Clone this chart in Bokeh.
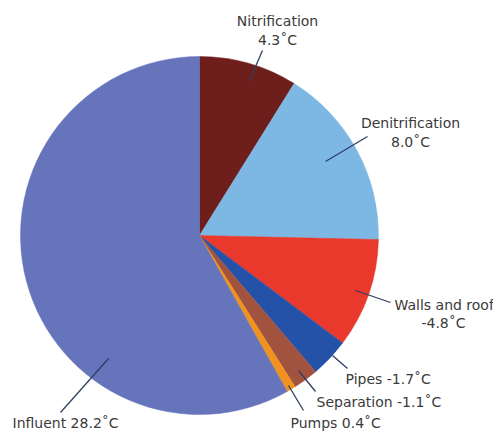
import math
from bokeh.plotting import figure
from bokeh.models import Range1d, ColumnDataSource
from bokeh.core.properties import value
from bokeh.embed import file_html
from bokeh.resources import INLINE

categories = ["Nitrification", "Denitrification", "Walls and roof", "Pipes", "Separation", "Pumps", "Influent"]
values = [4.3, 8.0, 4.8, 1.7, 1.1, 0.4, 28.2]
signs = ["", "", "-", "-", "-", "", ""]
colors = ["#6E1F1B", "#7DB8E5", "#E9392C", "#2452A8", "#A25340", "#F0921F", "#6674BC"]

W, H = 493, 432
cx, cy, R = 199, H - 235, 179

total = sum(values)
starts, ends = [], []
a = math.pi / 2
for v in values:
    starts.append(a)
    a -= v / total * 2 * math.pi
    ends.append(a)

p = figure(width=W, height=H, output_backend="svg", toolbar_location=None,
           x_range=Range1d(0, W), y_range=Range1d(0, H), min_border=0)
p.axis.visible = False
p.grid.visible = False
p.outline_line_color = None
p.background_fill_color = "white"

src = ColumnDataSource(dict(start=starts, end=ends, color=colors, cat=categories))
p.wedge(x=cx, y=cy, radius=R, start_angle="start", end_angle="end", direction="clock",
        fill_color="color", line_color="color", line_width=0.5, source=src)

# leader lines (pixel coords, y from top)
leaders = [
    ((249, 80), (262, 50)),
    ((325, 161), (367, 136)),
    ((355, 290), (390, 302)),
    ((332, 355), (347, 368)),
    ((298, 370), (315, 391)),
    ((288, 385), (303, 410)),
    ((108, 358), (60, 412)),
]
for (x0, y0), (x1, y1) in leaders:
    p.line([x0, x1], [H - y0, H - y1], line_color="#2E3F63", line_width=1.3)

def fmt(i):
    return f"{signs[i]}{values[i]:.1f}˚C"

labels = [
    (277, 20, categories[0], "center"),
    (277, 39, fmt(0), "center"),
    (410, 122, categories[1], "center"),
    (410, 141, fmt(1), "center"),
    (394, 304, categories[2], "left"),
    (443, 322, fmt(2), "center"),
    (345, 378, f"{categories[3]} {fmt(3)}", "left"),
    (316, 401, f"{categories[4]} {fmt(4)}", "left"),
    (290, 422, f"{categories[5]} {fmt(5)}", "left"),
    (12, 422, f"{categories[6]} {fmt(6)}", "left"),
]
for x, y, t, al in labels:
    p.text(x=[x], y=[H - y], text=[t], text_align=al, text_baseline="middle",
           text_font=value("DejaVu Sans"), text_font_size="14px", text_color="#3A3A3A")

open("out.html", "w").write(file_html(p, INLINE))
